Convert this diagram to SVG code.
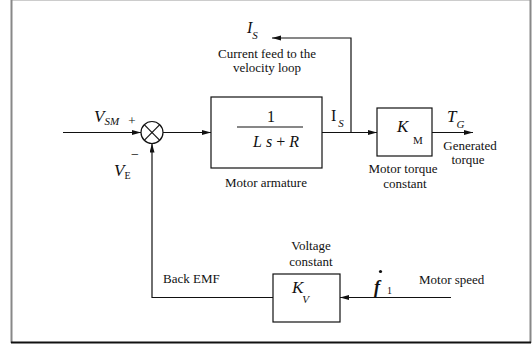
<svg xmlns="http://www.w3.org/2000/svg" width="532" height="345" viewBox="0 0 532 345">
<defs>
<style>
.lbl{font-size:13px}
.c{text-anchor:middle}
.m{font-size:17px;font-style:italic}
.sub{font-size:11px;font-style:italic}
.subu{font-size:11px}
.wire{fill:none;stroke:#111;stroke-width:1.2}
.box{fill:#fff;stroke:#111;stroke-width:1.2}
</style>
<marker id="ah" markerUnits="userSpaceOnUse" markerWidth="10" markerHeight="6" refX="9" refY="2.5" orient="auto">
<path d="M0,0 L9,2.5 L0,5 z" fill="#111"/>
</marker>
</defs>
<rect x="0" y="0" width="532" height="345" fill="#fff"/>
<g id="frame">
<line x1="11" y1="0.5" x2="531" y2="0.5" stroke="#ccc" stroke-width="1"/>
<line x1="11.5" y1="0" x2="11.5" y2="343" stroke="#888" stroke-width="2"/>
<line x1="530.5" y1="0" x2="530.5" y2="343" stroke="#888" stroke-width="2"/>
<line x1="11" y1="342.5" x2="531" y2="342.5" stroke="#111" stroke-width="2"/>
</g>
<g id="connectors">
<line class="wire" x1="63" y1="132.5" x2="141" y2="132.5" marker-end="url(#ah)"/>
<line class="wire" x1="163" y1="132.5" x2="211" y2="132.5" marker-end="url(#ah)"/>
<line class="wire" x1="322" y1="132.5" x2="377" y2="132.5" marker-end="url(#ah)"/>
<polyline class="wire" points="351,132.5 351,38 272,38" marker-end="url(#ah)"/>
<line class="wire" x1="432" y1="132.5" x2="473" y2="132.5" marker-end="url(#ah)"/>
<line class="wire" x1="451" y1="297.5" x2="340" y2="297.5" marker-end="url(#ah)"/>
<polyline class="wire" points="273,297.5 152,297.5 152,143.5" marker-end="url(#ah)"/>
</g>
<g font-family="'Liberation Serif', 'Times New Roman', Times, serif" fill="#111">
<g id="sum">
<circle class="box" cx="152" cy="132.5" r="11"/>
<line class="wire" x1="144.2" y1="124.7" x2="159.8" y2="140.3"/>
<line class="wire" x1="159.8" y1="124.7" x2="144.2" y2="140.3"/>
<text class="lbl c" x="132" y="125">+</text>
<text class="c" x="135" y="159" font-size="14">−</text>
</g>
<g id="vsm">
<text x="94" y="122"><tspan class="m">V</tspan><tspan class="sub" dy="3">SM</tspan></text>
</g>
<g id="ve">
<text x="114" y="176"><tspan class="m">V</tspan><tspan font-size="10" dy="3">E</tspan></text>
</g>
<g id="armature">
<rect class="box" x="211" y="97" width="111" height="71"/>
<text class="c" x="271" y="122" font-size="16">1</text>
<line class="wire" x1="237" y1="127" x2="303" y2="127"/>
<text x="253" y="147" font-size="16"><tspan font-style="italic">L</tspan> <tspan font-style="italic">s</tspan> + <tspan font-style="italic">R</tspan></text>
<text class="lbl c" x="266" y="187">Motor armature</text>
</g>
<g id="is-right">
<text x="331" y="121"><tspan font-size="16">I</tspan><tspan class="sub" dx="2" dy="6">S</tspan></text>
</g>
<g id="is-top">
<text x="247" y="33"><tspan font-size="16" font-style="italic">I</tspan><tspan class="sub" dy="6">S</tspan></text>
<text class="lbl c" x="267" y="58">Current feed to the</text>
<text class="lbl c" x="267" y="72">velocity loop</text>
</g>
<g id="km">
<rect class="box" x="377" y="108" width="55" height="48"/>
<text class="m" x="397" y="132">K</text>
<text class="subu" x="413" y="144">M</text>
<text class="lbl c" x="403" y="173">Motor torque</text>
<text class="lbl c" x="405" y="188">constant</text>
</g>
<g id="tg">
<text x="447" y="122"><tspan class="m">T</tspan><tspan class="sub" dy="6">G</tspan></text>
<text class="lbl c" x="470" y="150">Generated</text>
<text class="lbl c" x="468" y="164">torque</text>
</g>
<g id="kv">
<rect class="box" x="273" y="274" width="67" height="48"/>
<text x="292" y="293"><tspan class="m">K</tspan><tspan class="sub" dx="-1" dy="10">V</tspan></text>
<text class="lbl c" x="311" y="250">Voltage</text>
<text class="lbl c" x="311" y="266">constant</text>
</g>
<g id="backemf">
<text class="lbl" x="163" y="283">Back EMF</text>
</g>
<g id="speed">
<text x="374" y="293" font-size="18" font-style="italic" font-weight="bold">f</text>
<circle cx="380.5" cy="271.5" r="1.6" fill="#111"/>
<text x="387" y="294" font-size="10">1</text>
<text class="lbl" x="419" y="284">Motor speed</text>
</g>
</g>
</svg>
